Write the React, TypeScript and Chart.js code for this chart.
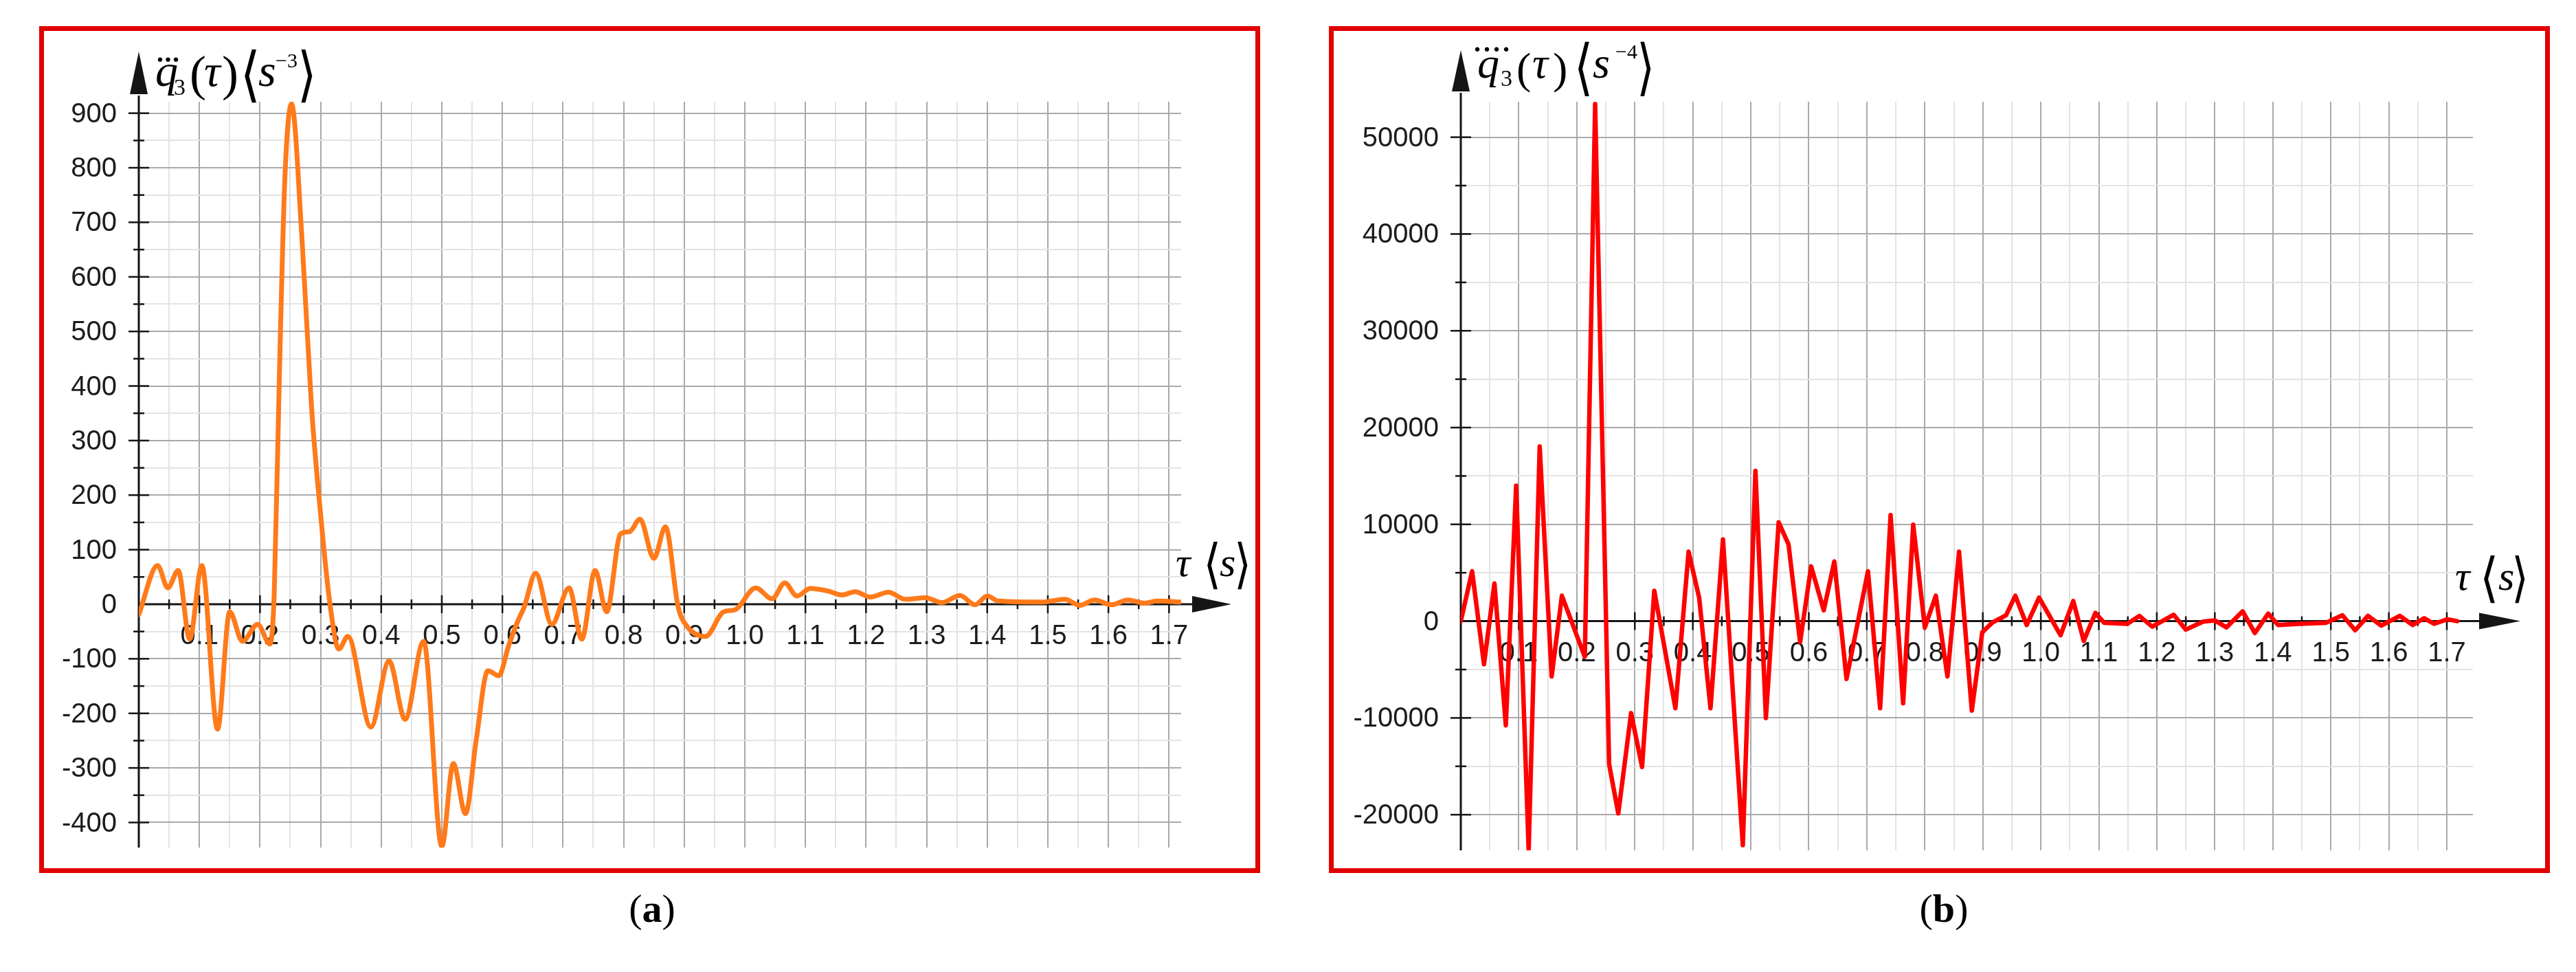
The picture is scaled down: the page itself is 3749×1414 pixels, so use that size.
import React, { useEffect, useRef } from "react";
import { Chart, registerables } from "chart.js";

Chart.register(...registerables);

// ---------------- DATA ----------------
// Panel (a): third derivative q3'''(tau) [s^-3]
const tauA = [
  0, 0.031, 0.048, 0.065, 0.084, 0.104, 0.13, 0.15, 0.171, 0.196, 0.2165, 0.2235, 0.232, 0.241, 0.252,
  0.269, 0.285, 0.3, 0.315, 0.33, 0.345, 0.383, 0.413, 0.4395, 0.47, 0.5, 0.519, 0.539, 0.557, 0.576,
  0.594, 0.61, 0.625, 0.636, 0.655, 0.6815, 0.71, 0.731, 0.753, 0.772, 0.795, 0.81, 0.827, 0.85, 0.869,
  0.89, 0.905, 0.935, 0.965, 0.984, 1.018, 1.045, 1.066, 1.086, 1.108, 1.138, 1.16, 1.182, 1.207, 1.237,
  1.265, 1.298, 1.325, 1.355, 1.38, 1.4, 1.418, 1.49, 1.528, 1.553, 1.577, 1.605, 1.632, 1.66, 1.68, 1.72,
];
const jerkA = [
  -19, 71, 30, 62, -64, 71, -229, -14, -68, -37, -73, 20, 420, 780, 917,
  675, 362, 165, 4, -82, -59, -225, -104, -211, -68, -444, -292, -384, -247, -122,
  -131, -77, -32, -5, 57, -37, 30, -64, 62, -14, 129, 133, 156, 84, 142,
  -5, -41, -59, -14, -10, 30, 10, 39, 15, 29, 24, 17, 23, 13, 22,
  9, 12, 3, 16, -1, 15, 6, 4, 9, -2, 8, -1, 8, 2, 6, 4,
];

// Panel (b): fourth derivative q3''''(tau) [s^-4]
const tauB = [
  0, 0.0195, 0.04, 0.058, 0.0776, 0.0954, 0.117, 0.136, 0.1566, 0.1743, 0.2138, 0.2316, 0.2557, 0.2715,
  0.2936, 0.3125, 0.3336, 0.37, 0.3927, 0.411, 0.4305, 0.452, 0.4862, 0.508, 0.526, 0.548, 0.565, 0.585,
  0.604, 0.6257, 0.644, 0.665, 0.702, 0.723, 0.741, 0.7626, 0.78, 0.8, 0.819, 0.839, 0.859, 0.881, 0.899,
  0.9165, 0.94, 0.956, 0.9757, 0.997, 1.034, 1.056, 1.074, 1.094, 1.109, 1.149, 1.17, 1.192, 1.229, 1.25,
  1.28, 1.3, 1.32, 1.348, 1.369, 1.392, 1.409, 1.446, 1.492, 1.52, 1.542, 1.564, 1.587, 1.619, 1.641,
  1.661, 1.678, 1.701, 1.718,
];
const snapB = [
  0, 5157, -4449, 3893, -10770, 14000, -23660, 18050, -5713, 2629, -3690, 53440, -14800, -19870,
  -9500, -15070, 3135, -9000, 7180, 2400, -9000, 8440, -23150, 15520, -10010, 10210, 7940, -2170,
  5660, 1110, 6170, -5970, 5160, -9000, 10970, -8490, 9960, -660, 2630, -5710, 7180, -9250, -1160,
  -150, 600, 2630, -400, 2430, -1460, 2080, -2050, 850, -165, -280, 540, -570, 660, -870,
  -50, 70, -640, 1010, -1230, 780, -400, -280, -165, 610, -940, 540, -470, 540, -400,
  300, -280, 190, 0,
];

// Tick labels
const xTickLabels = [
  "0.1", "0.2", "0.3", "0.4", "0.5", "0.6", "0.7", "0.8", "0.9",
  "1.0", "1.1", "1.2", "1.3", "1.4", "1.5", "1.6", "1.7",
];
const yTickLabelsA = ["-400", "-300", "-200", "-100", "0", "100", "200", "300", "400", "500", "600", "700", "800", "900"];
const yTickLabelsB = ["-20000", "-10000", "0", "10000", "20000", "30000", "40000", "50000"];

// ---------------- STYLE ----------------
const MAJOR_GRID = "#a9a9a9";
const MINOR_GRID = "#e3e3e3";
const AXIS_COLOR = "#151515";
const LABEL_COLOR = "#1c1c1c";
const TICK_FONT = '40px "Liberation Sans", Arial, sans-serif';
const SERIF = '"Liberation Serif", "Times New Roman", serif';
const BRACKET_FONT = '80px "DejaVu Sans", "Noto Sans CJK SC", sans-serif';

type Piece = { text: string; x: number; y: number; font: string; w?: number; h?: number };

function dots(n: number, cx0: number, spacing: number, cy: number): Piece[] {
  const out: Piece[] = [];
  for (let i = 0; i < n; i++) {
    out.push({ text: ".", x: cx0 + i * spacing - 5, y: cy + 3, font: `bold 40px ${SERIF}` });
  }
  return out;
}

type PanelCfg = {
  box: { left: number; top: number; width: number; height: number; border: number };
  area: { left: number; top: number; right: number; bottom: number };
  xMax: number;
  yMin: number;
  yMax: number;
  yStep: number;
  yMajor: number;
  xs: number[];
  ys: number[];
  yLabels: string[];
  color: string;
  lineWidth: number;
  smooth: boolean;
  yArrowTip: number;
  yArrowBase: number;
  xArrowStart: number;
  xArrowTip: number;
  titles: Piece[];
};

const panelA: PanelCfg = {
  box: { left: 57, top: 38, width: 1777, height: 1232, border: 7 },
  area: { left: 202, top: 148, right: 1719, bottom: 1233 },
  xMax: 1.72,
  yMin: -446,
  yMax: 921,
  yStep: 50,
  yMajor: 100,
  xs: tauA,
  ys: jerkA,
  yLabels: yTickLabelsA,
  color: "#ff7a1a",
  lineWidth: 7,
  smooth: true,
  yArrowTip: 75,
  yArrowBase: 137,
  xArrowStart: 1735,
  xArrowTip: 1792,
  titles: [
    ...dots(3, 233, 11.5, 87),
    { text: "q", x: 226, y: 125, font: `italic 66px ${SERIF}` },
    { text: "3", x: 253, y: 138, font: `34px ${SERIF}` },
    { text: "(", x: 276, y: 131, font: `72px ${SERIF}` },
    { text: "τ", x: 297, y: 125, font: `italic 66px ${SERIF}` },
    { text: ")", x: 323, y: 131, font: `72px ${SERIF}` },
    { text: "⟨", x: 356, y: 111, w: 17, h: 78, font: BRACKET_FONT },
    { text: "s", x: 376, y: 125, font: `italic 66px ${SERIF}` },
    { text: "−3", x: 401, y: 98, font: `30px ${SERIF}` },
    { text: "⟩", x: 438, y: 111, w: 17, h: 78, font: BRACKET_FONT },
    { text: "τ", x: 1711, y: 838, font: `italic 60px ${SERIF}` },
    { text: "⟨", x: 1757, y: 823, w: 15, h: 70, font: BRACKET_FONT },
    { text: "s", x: 1775, y: 838, font: `italic 60px ${SERIF}` },
    { text: "⟩", x: 1801, y: 823, w: 15, h: 70, font: BRACKET_FONT },
  ],
};

const panelB: PanelCfg = {
  box: { left: 1934, top: 38, width: 1777, height: 1232, border: 7 },
  area: { left: 2126, top: 148, right: 3599, bottom: 1237 },
  xMax: 1.745,
  yMin: -23680,
  yMax: 53665,
  yStep: 5000,
  yMajor: 10000,
  xs: tauB,
  ys: snapB,
  yLabels: yTickLabelsB,
  color: "#ff0000",
  lineWidth: 6.5,
  smooth: false,
  yArrowTip: 73,
  yArrowBase: 133,
  xArrowStart: 3608,
  xArrowTip: 3668,
  titles: [
    ...dots(4, 2150, 14, 72),
    { text: "q", x: 2150, y: 113, font: `italic 64px ${SERIF}` },
    { text: "3", x: 2184, y: 125, font: `34px ${SERIF}` },
    { text: "(", x: 2207, y: 121, font: `64px ${SERIF}` },
    { text: "τ", x: 2230, y: 113, font: `italic 64px ${SERIF}` },
    { text: ")", x: 2260, y: 121, font: `64px ${SERIF}` },
    { text: "⟨", x: 2297, y: 100, w: 16, h: 80, font: BRACKET_FONT },
    { text: "s", x: 2318, y: 113, font: `italic 64px ${SERIF}` },
    { text: "−4", x: 2351, y: 85, font: `30px ${SERIF}` },
    { text: "⟩", x: 2387, y: 100, w: 16, h: 80, font: BRACKET_FONT },
    { text: "τ", x: 3573, y: 858, font: `italic 60px ${SERIF}` },
    { text: "⟨", x: 3615, y: 843, w: 16, h: 70, font: BRACKET_FONT },
    { text: "s", x: 3636, y: 858, font: `italic 60px ${SERIF}` },
    { text: "⟩", x: 3660, y: 843, w: 15, h: 70, font: BRACKET_FONT },
  ],
};

function gridValues(min: number, max: number, step: number): number[] {
  const out: number[] = [];
  const start = Math.ceil(min / step - 1e-9);
  const end = Math.floor(max / step + 1e-9);
  for (let k = start; k <= end; k++) out.push(Math.round(k * step * 1000) / 1000);
  return out;
}

function Panel({ cfg }: { cfg: PanelCfg }) {
  const ref = useRef<HTMLCanvasElement | null>(null);
  const b = cfg.box;
  const ox = b.left + b.border;
  const oy = b.top + b.border;
  const cw = b.width - 2 * b.border;
  const chh = b.height - 2 * b.border;

  useEffect(() => {
    const canvas = ref.current;
    if (!canvas) return;
    const a = cfg.area;
    const yWidth = a.left - ox;
    const padTop = a.top - oy;
    const padRight = ox + cw - a.right;
    const padBottom = oy + chh - a.bottom;
    const isMajorX = (v: number) => Math.abs(v * 10 - Math.round(v * 10)) < 1e-6;
    const isMajorY = (v: number) => Math.abs(v / cfg.yMajor - Math.round(v / cfg.yMajor)) < 1e-6;

    const axesPlugin = {
      id: "customAxes",
      beforeDatasetsDraw(chart: any) {
        const { ctx, chartArea: ca, scales } = chart;
        const xs = scales.x;
        const ysc = scales.y;
        const x0 = xs.getPixelForValue(0);
        const y0 = ysc.getPixelForValue(0);
        ctx.save();
        // tick labels
        ctx.fillStyle = LABEL_COLOR;
        ctx.font = TICK_FONT;
        ctx.textBaseline = "middle";
        ctx.textAlign = "center";
        for (const s of xTickLabels) {
          const v = Number(s);
          if (v > cfg.xMax) continue;
          ctx.fillText(s, xs.getPixelForValue(v), y0 + 47);
        }
        ctx.textAlign = "right";
        for (const s of cfg.yLabels) {
          const v = Number(s);
          ctx.fillText(s, x0 - 32, ysc.getPixelForValue(v) + 2);
        }
        // axes
        ctx.strokeStyle = AXIS_COLOR;
        ctx.fillStyle = AXIS_COLOR;
        ctx.lineWidth = 3;
        const yBase = cfg.yArrowBase - oy;
        const yTip = cfg.yArrowTip - oy;
        ctx.beginPath();
        ctx.moveTo(x0, ca.bottom);
        ctx.lineTo(x0, yBase + 2);
        ctx.stroke();
        ctx.beginPath();
        ctx.moveTo(x0, yTip);
        ctx.lineTo(x0 - 13, yBase);
        ctx.lineTo(x0 + 13, yBase);
        ctx.closePath();
        ctx.fill();
        const xBase = cfg.xArrowStart - ox;
        const xTip = cfg.xArrowTip - ox;
        ctx.beginPath();
        ctx.moveTo(x0, y0);
        ctx.lineTo(xBase + 2, y0);
        ctx.stroke();
        ctx.beginPath();
        ctx.moveTo(xTip, y0);
        ctx.lineTo(xBase, y0 - 12);
        ctx.lineTo(xBase, y0 + 12);
        ctx.closePath();
        ctx.fill();
        ctx.lineWidth = 2.5;
        for (const t of xs.ticks) {
          if (t.value <= 1e-9) continue;
          const px = xs.getPixelForValue(t.value);
          const h = isMajorX(t.value) ? 13 : 7;
          ctx.beginPath();
          ctx.moveTo(px, y0 - h);
          ctx.lineTo(px, y0 + h);
          ctx.stroke();
        }
        for (const t of ysc.ticks) {
          if (Math.abs(t.value) < 1e-9) continue;
          const py = ysc.getPixelForValue(t.value);
          const w = isMajorY(t.value) ? 15 : 8;
          ctx.beginPath();
          ctx.moveTo(x0 - w, py);
          ctx.lineTo(x0 + w, py);
          ctx.stroke();
        }
        ctx.restore();
      },
      afterDraw(chart: any) {
        const ctx = chart.ctx;
        ctx.save();
        ctx.fillStyle = "#000";
        ctx.textAlign = "left";
        ctx.textBaseline = "alphabetic";
        for (const p of cfg.titles) {
          ctx.font = p.font;
          if (p.w && p.h) {
            const m = ctx.measureText(p.text);
            const ih = m.actualBoundingBoxAscent + m.actualBoundingBoxDescent || 1;
            const iw = m.actualBoundingBoxLeft + m.actualBoundingBoxRight || 1;
            ctx.save();
            ctx.translate(p.x - ox, p.y - oy - p.h / 2);
            ctx.scale(p.w / iw, p.h / ih);
            ctx.fillText(p.text, m.actualBoundingBoxLeft, m.actualBoundingBoxAscent);
            ctx.restore();
          } else {
            ctx.fillText(p.text, p.x - ox, p.y - oy);
          }
        }
        ctx.restore();
      },
    };

    const chart = new Chart(canvas, {
      type: "line",
      data: {
        datasets: [
          {
            data: cfg.xs.map((x, i) => ({ x, y: cfg.ys[i] })),
            borderColor: cfg.color,
            backgroundColor: cfg.color,
            borderWidth: cfg.lineWidth,
            pointRadius: 0,
            fill: false,
            tension: cfg.smooth ? 0.4 : 0,
            cubicInterpolationMode: cfg.smooth ? "monotone" : "default",
            borderJoinStyle: "round",
            borderCapStyle: "round",
          },
        ],
      },
      options: {
        animation: false,
        responsive: false,
        devicePixelRatio: 1,
        layout: { padding: { left: 0, top: padTop, right: padRight, bottom: padBottom } },
        plugins: { legend: { display: false }, tooltip: { enabled: false } },
        scales: {
          x: {
            type: "linear",
            min: 0,
            max: cfg.xMax,
            position: { y: 0 },
            afterBuildTicks: (s: any) => {
              s.ticks = gridValues(0, cfg.xMax, 0.05).map((value) => ({ value }));
            },
            afterFit: (s: any) => {
              s.height = 0;
              s.paddingLeft = 0;
              s.paddingRight = 0;
              s.paddingTop = 0;
              s.paddingBottom = 0;
            },
            grid: {
              color: (c: any) => (c.tick && isMajorX(c.tick.value) ? MAJOR_GRID : MINOR_GRID),
              lineWidth: 2,
              drawTicks: false,
            },
            border: { display: false },
            ticks: { display: false, autoSkip: false },
          },
          y: {
            type: "linear",
            min: cfg.yMin,
            max: cfg.yMax,
            position: "left",
            afterBuildTicks: (s: any) => {
              s.ticks = gridValues(cfg.yMin, cfg.yMax, cfg.yStep).map((value) => ({ value }));
            },
            afterFit: (s: any) => {
              s.width = yWidth;
              s.paddingLeft = 0;
              s.paddingRight = 0;
              s.paddingTop = 0;
              s.paddingBottom = 0;
            },
            grid: {
              color: (c: any) => (c.tick && isMajorY(c.tick.value) ? MAJOR_GRID : MINOR_GRID),
              lineWidth: 2,
              drawTicks: false,
            },
            border: { display: false },
            ticks: { display: false, autoSkip: false },
          },
        },
      } as any,
      plugins: [axesPlugin as any],
    });
    return () => chart.destroy();
  }, []);

  return (
    <div
      style={{
        position: "absolute",
        left: b.left,
        top: b.top,
        width: b.width,
        height: b.height,
        border: `${b.border}px solid #e10000`,
        boxSizing: "border-box",
        background: "#fff",
      }}
    >
      <canvas
        ref={ref}
        width={cw}
        height={chh}
        style={{ position: "absolute", left: 0, top: 0, width: cw, height: chh, display: "block" }}
      />
    </div>
  );
}

function Caption({ letter, cx }: { letter: string; cx: number }) {
  return (
    <div
      style={{
        position: "absolute",
        left: cx - 100,
        top: 1287,
        width: 200,
        height: 70,
        lineHeight: "70px",
        textAlign: "center",
        fontFamily: SERIF,
        fontSize: 58,
        color: "#000",
      }}
    >
      (<b>{letter}</b>)
    </div>
  );
}

export default function App() {
  return (
    <div style={{ position: "absolute", left: 0, top: 0, width: 3749, height: 1414, background: "#fff", overflow: "hidden" }}>
      <Panel cfg={panelA} />
      <Panel cfg={panelB} />
      <Caption letter="a" cx={949} />
      <Caption letter="b" cx={2829} />
    </div>
  );
}
